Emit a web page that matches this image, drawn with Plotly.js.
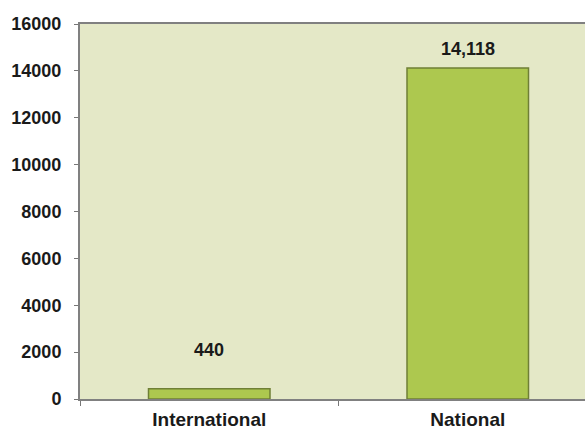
<!DOCTYPE html>
<html>
<head>
<meta charset="utf-8">
<script src="https://cdn.plot.ly/plotly-3.0.1.min.js"></script>
<style>html,body{margin:0;padding:0;background:#fff;overflow:hidden;}#wrap{width:585px;height:430px;overflow:hidden;}#chart{width:597px;height:430px;}</style>
</head>
<body>
<div id="wrap"><div id="chart"></div></div>
<script>
const categories = ["International", "National"];
const values = [440, 14118];
const valueLabels = ["440", "14,118"];
const labelShifts = [27, 7];
const yTicks = [0, 2000, 4000, 6000, 8000, 10000, 12000, 14000, 16000];

const FONT = "Liberation Sans, Arial, Helvetica, sans-serif";

const trace = {
  type: "bar",
  x: categories,
  y: values,
  width: 0.47,
  marker: { color: "#adc84f", line: { color: "#6f7f36", width: 1.5 } },
  hoverinfo: "none"
};

const annotations = categories.map((c, i) => ({
  x: c, y: values[i], xref: "x", yref: "y",
  text: valueLabels[i], showarrow: false,
  yanchor: "bottom", yshift: labelShifts[i],
  font: { family: FONT, size: 18, color: "#1a1a1a", weight: "bold" }
}));

const layout = {
  width: 597, height: 430,
  margin: { l: 80, r: 0, t: 24, b: 31 },
  paper_bgcolor: "#ffffff",
  plot_bgcolor: "#e4e8c7",
  showlegend: false,
  font: { family: FONT, color: "#1a1a1a" },
  xaxis: {
    type: "category",
    range: [-0.5, 1.5],
    tickson: "boundaries",
    ticks: "outside", ticklen: 5, tickcolor: "#777", tickwidth: 1,
    showline: true, linecolor: "#808080", linewidth: 2, mirror: true,
    showgrid: false, zeroline: false,
    ticklabelstandoff: 2,
    tickfont: { family: FONT, size: 19, color: "#1a1a1a", weight: "bold" }
  },
  yaxis: {
    range: [0, 16000],
    tickvals: yTicks,
    tickformat: "d",
    ticks: "outside", ticklen: 4, tickcolor: "#777", tickwidth: 1,
    showline: true, linecolor: "#808080", linewidth: 2,
    showgrid: false, zeroline: false,
    ticklabelstandoff: 9,
    tickfont: { family: FONT, size: 18, color: "#1a1a1a", weight: "bold" }
  },
  annotations: annotations
};

Plotly.newPlot("chart", [trace], layout, { staticPlot: true, displayModeBar: false });
</script>
</body>
</html>
